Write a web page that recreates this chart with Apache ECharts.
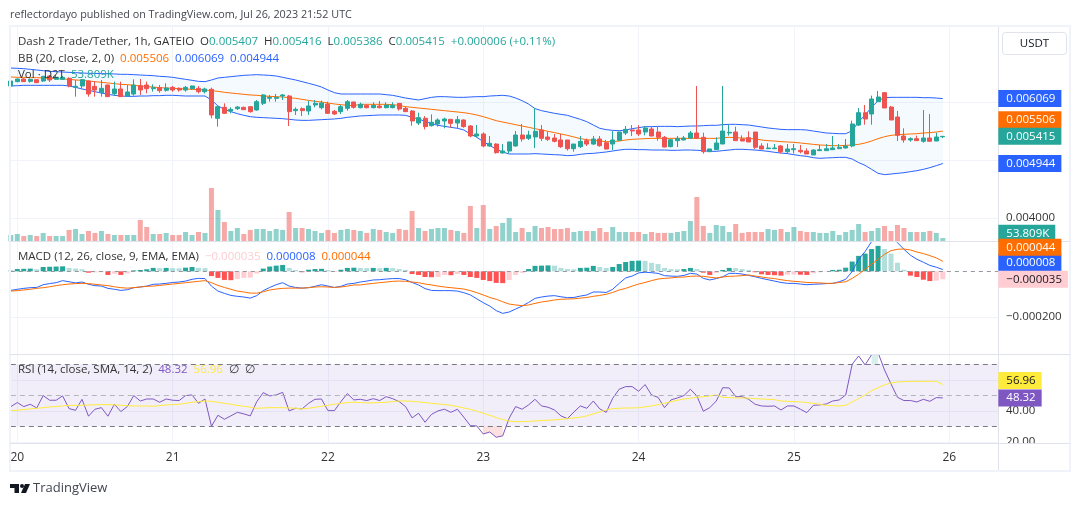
<!DOCTYPE html>
<html>
<head>
<meta charset="utf-8">
<style>html,body{margin:0;padding:0;background:#fff}#chart{width:1080px;height:506px}</style>
</head>
<body>
<div id="chart"></div>
<script src="https://cdn.jsdelivr.net/npm/echarts@6/dist/echarts.min.js"></script>
<script>
// prices, bands and macd are in millionths of USDT, volume in thousands
var dayLabels = ['20', '21', '22', '23', '24', '25', '26'];
// open, close, low, high
var candles = [
[6288,6374,6276,6392],[6363,6409,6357,6415],[6409,6363,6357,6420],[6368,6403,6345,6420],[6397,6345,6340,6403],
[6374,6455,6357,6461],[6461,6392,6357,6478],[6403,6438,6392,6478],[6403,6438,6392,6461],[6420,6288,6264,6438],
[6264,6282,6103,6392],[6288,6397,6247,6409],[6374,6149,6103,6380],[6282,6218,6103,6374],[6172,6247,6103,6392],
[6305,6103,6097,6311],[6155,6236,6120,6363],[6236,6103,6097,6363],[6114,6184,6103,6305],[6149,6305,6120,6403],
[6293,6218,6132,6409],[6305,6241,6160,6363],[6241,6259,6189,6316],[6259,6207,6172,6305],[6212,6253,6189,6334],
[6264,6218,6189,6288],[6247,6218,6189,6264],[6218,6264,6189,6288],[6241,6288,6218,6293],[6247,6189,6160,6288],
[6189,6236,6160,6259],[6230,5785,5727,6259],[5727,5929,5583,5941],[5918,5814,5802,5987],[5854,5883,5814,5918],
[5895,5923,5872,5941],[5918,5877,5872,5929],[5929,5843,5825,5929],[5872,6016,5860,6045],[5987,6132,5958,6149],
[6074,6091,6016,6132],[6074,6091,6016,6149],[6114,6132,6045,6149],[6114,5843,5594,6132],[5860,5883,5785,5918],
[5895,5860,5768,5918],[5854,5941,5785,6033],[5958,5987,5918,6045],[5912,5993,5883,6033],[5976,5814,5802,6016],
[5849,5802,5785,5872],[5843,5929,5802,5958],[5900,6016,5860,6045],[6010,5918,5895,6016],[5912,5970,5900,5999],
[5952,5912,5900,5965],[5912,5952,5900,6005],[5941,5912,5900,6028],[5912,5958,5900,6005],[5912,5952,5900,6005],
[5987,5889,5860,5993],[5900,5843,5843,5929],[5854,5681,5600,5871],[5646,5739,5611,5825],[5727,5583,5536,5767],
[5600,5658,5583,5796],[5629,5698,5583,5727],[5681,5716,5554,5738],[5710,5640,5565,5710],[5646,5704,5554,5767],
[5698,5583,5565,5710],[5594,5421,5398,5611],[5421,5456,5398,5611],[5456,5248,5225,5484],[5248,5294,5236,5421],
[5282,5132,5115,5294],[5126,5161,5120,5282],[5161,5317,5115,5323],[5248,5438,5236,5507],[5438,5369,5323,5629],
[5380,5438,5352,5513],[5404,5502,5213,5906],[5525,5380,5334,5611],[5404,5363,5334,5496],[5386,5329,5311,5456],
[5352,5236,5213,5456],[5352,5201,5167,5352],[5201,5282,5149,5282],[5236,5328,5213,5421],[5340,5282,5248,5375],
[5282,5369,5265,5421],[5369,5253,5236,5421],[5305,5195,5190,5352],[5282,5352,5178,5507],[5346,5490,5334,5496],
[5473,5536,5438,5594],[5525,5508,5421,5611],[5525,5456,5421,5611],[5490,5560,5432,5594],[5542,5421,5415,5583],
[5490,5398,5340,5594],[5398,5230,5225,5421],[5236,5357,5225,5369],[5340,5380,5230,5421],[5352,5386,5346,5421],
[5386,5473,5375,5507],[5473,5386,5375,6287],[5398,5149,5115,5479],[5149,5196,5149,5196],[5184,5300,5178,5398],
[5282,5507,5282,6287],[5473,5485,5427,5611],[5490,5340,5340,5583],[5369,5334,5334,5432],[5392,5317,5317,5502],
[5490,5225,5195,5490],[5248,5195,5190,5294],[5201,5213,5201,5294],[5201,5213,5201,5282],[5248,5149,5120,5265],
[5149,5196,5109,5282],[5184,5201,5120,5282],[5173,5149,5120,5265],[5161,5109,5109,5207],[5092,5178,5092,5190],
[5167,5184,5167,5265],[5167,5201,5167,5282],[5184,5213,5178,5421],[5201,5225,5195,5282],[5213,5248,5201,5369],
[5248,5629,5225,5687],[5611,5825,5594,5906],[5825,5716,5617,5958],[5802,6062,5617,6120],[6016,6097,6016,6201],
[6172,5906,5906,6183],[5923,5698,5698,5941],[5750,5432,5334,5854],[5421,5352,5305,5554],[5352,5375,5323,5398],
[5375,5340,5340,5427],[5329,5386,5305,5871],[5386,5329,5329,5802],[5334,5404,5334,5479],[5407,5415,5386,5416]
];
var bbUpper = [
6599,6594,6588,6576,6565,6553,6542,6536,6530,6524,6519,6513,6507,6507,6501,6501,6496,6490,6490,6484,
6478,6472,6467,6455,6449,6438,6420,6403,6386,6368,6363,6392,6426,6438,6449,6461,6472,6478,6484,6478,
6472,6461,6438,6415,6392,6363,6334,6305,6270,6218,6172,6149,6149,6149,6149,6149,6149,6149,6137,6126,
6103,6079,6062,6045,6068,6091,6103,6103,6097,6091,6091,6097,6103,6103,6114,6120,6126,6114,6079,6033,
5975,5895,5860,5837,5814,5796,5779,5744,5710,5669,5611,5554,5531,5519,5513,5525,5548,5565,5583,5583,
5588,5588,5588,5583,5588,5594,5594,5600,5606,5606,5617,5623,5623,5617,5611,5594,5577,5560,5548,5536,
5531,5531,5531,5525,5507,5490,5473,5467,5461,5461,5513,5669,5785,5918,6033,6085,6091,6091,6091,6091,
6091,6085,6085,6079,6069
];
var bbBasis = [
6444,6438,6438,6432,6432,6426,6420,6415,6409,6403,6392,6386,6374,6363,6351,6340,6328,6316,6311,6299,
6288,6276,6270,6259,6253,6247,6241,6236,6230,6224,6218,6207,6195,6178,6166,6155,6143,6132,6126,6114,
6108,6103,6097,6085,6074,6056,6039,6022,6010,5993,5976,5964,5952,5947,5970,5970,5970,5970,5970,5964,
5952,5929,5918,5906,5895,5883,5871,5860,5848,5837,5825,5808,5785,5756,5721,5687,5663,5640,5617,5594,
5571,5548,5525,5502,5479,5456,5432,5404,5375,5357,5346,5334,5323,5323,5334,5352,5363,5369,5375,5380,
5380,5380,5380,5380,5380,5380,5380,5380,5380,5380,5392,5398,5392,5386,5380,5369,5352,5340,5334,5323,
5317,5311,5300,5288,5276,5265,5259,5253,5253,5259,5265,5276,5300,5334,5375,5409,5432,5444,5450,5456,
5461,5473,5479,5490,5506
];
var bbLower = [
6288,6293,6299,6299,6299,6299,6299,6299,6299,6288,6264,6236,6212,6189,6166,6143,6126,6114,6108,6108,
6114,6114,6120,6120,6126,6126,6120,6114,6114,6114,6114,6045,5941,5883,5843,5808,5779,5756,5745,5739,
5733,5727,5721,5710,5698,5692,5692,5698,5704,5710,5716,5727,5744,5756,5768,5773,5779,5785,5785,5785,
5785,5779,5744,5716,5675,5635,5606,5588,5571,5554,5525,5456,5398,5323,5259,5190,5144,5109,5109,5109,
5109,5115,5109,5103,5097,5092,5080,5086,5103,5115,5120,5132,5144,5161,5178,5190,5190,5184,5184,5178,
5178,5178,5173,5173,5178,5178,5173,5167,5155,5155,5167,5178,5190,5190,5184,5178,5167,5155,5138,5126,
5115,5097,5080,5068,5045,5034,5040,5045,5051,5051,5022,4959,4912,4843,4774,4751,4762,4774,4785,4803,
4820,4843,4872,4907,4944
];
var volumes = [
103,119,87,103,87,136,87,87,87,185,201,119,168,136,168,119,103,103,103,103,
348,233,119,119,136,103,103,152,103,152,136,869,510,315,168,217,119,185,201,201,
168,201,185,478,217,217,201,168,136,185,136,185,201,185,168,136,201,185,152,136,
201,185,494,217,168,201,217,217,185,168,136,576,217,592,201,250,299,380,152,217,
152,250,217,233,201,201,217,152,168,168,168,217,152,233,152,152,152,152,119,152,
136,136,136,152,168,331,722,250,136,266,250,152,282,136,152,152,152,201,185,201,
152,233,168,152,152,136,136,168,103,152,185,282,152,168,217,250,168,266,217,152,
152,152,168,136,53.809
];
var macdHist = [
3,10,11,12,9,19,20,21,22,15,12,9,-6,-5,-4,-16,-10,-16,-10,4,
6,9,15,14,15,14,13,16,19,15,14,-21,-29,-38,-39,-34,-29,-28,-10,12,
21,25,28,15,6,-4,7,10,11,6,-1,7,15,16,15,14,15,14,15,14,
10,6,-12,-16,-25,-26,-25,-16,-17,-12,-16,-25,-29,-38,-43,-51,-52,-38,-16,-7,
10,24,25,26,25,15,10,9,15,16,24,19,15,19,32,41,46,47,46,37,
32,15,10,9,10,15,10,-6,-16,-7,6,15,14,10,6,-4,-13,-16,-17,-19,
-15,-14,-15,-16,-9,-4,-1,6,7,16,43,68,78,98,112,98,78,38,7,-19,
-25,-37,-43,-41,-35
];
var macdLine = [
-84,-79,-75,-72,-71,-59,-54,-50,-41,-46,-51,-47,-57,-63,-65,-75,-79,-84,-81,-72,
-69,-65,-57,-56,-53,-49,-47,-43,-35,-31,-32,-65,-87,-97,-106,-110,-113,-118,-107,-85,
-71,-59,-50,-65,-71,-74,-72,-66,-59,-65,-71,-66,-56,-53,-47,-43,-38,-37,-34,-32,
-32,-37,-49,-60,-76,-84,-85,-85,-85,-87,-94,-104,-121,-138,-153,-173,-185,-179,-166,-153,
-137,-119,-113,-109,-107,-112,-116,-115,-109,-104,-91,-91,-93,-79,-53,-29,-21,-7,-4,-6,
-9,-19,-21,-22,-18,-9,-12,-31,-38,-32,-24,-9,-9,-12,-18,-24,-31,-37,-43,-49,
-53,-53,-56,-59,-57,-56,-54,-53,-46,-35,-1,53,87,131,175,190,168,126,97,71,
53,40,26,18,8
];
var macdSignal = [
-87,-85,-82,-79,-75,-72,-68,-63,-59,-56,-54,-53,-54,-57,-60,-63,-68,-72,-74,-72,
-69,-66,-65,-62,-59,-56,-53,-50,-47,-44,-41,-50,-62,-71,-79,-87,-91,-96,-96,-90,
-82,-78,-75,-74,-74,-74,-72,-69,-68,-69,-71,-69,-65,-60,-60,-56,-53,-50,-47,-44,
-43,-44,-47,-50,-56,-60,-65,-69,-72,-75,-78,-85,-94,-104,-115,-123,-134,-144,-148,-151,
-148,-141,-135,-131,-126,-123,-122,-121,-118,-115,-110,-106,-101,-93,-82,-75,-65,-56,-49,-41,
-34,-31,-29,-26,-25,-22,-21,-22,-26,-29,-25,-22,-21,-19,-16,-21,-25,-29,-32,-37,
-41,-44,-46,-49,-50,-51,-53,-53,-49,-46,-31,-13,9,31,53,75,91,97,98,94,
85,78,69,59,44
];
var rsiLine = [
42.7,45.3,42.7,44.2,41.8,49.8,46.8,46.8,49.6,41.4,40.3,47.4,36.5,41,42,36.5,44.2,39.5,42.7,49.8,
46.3,47.6,47.6,45.5,47.6,46.8,46.6,49.8,50.2,44.8,47.6,30,37.1,34.5,36.7,39,38,36.7,45.9,51.7,
49.6,50.2,51.9,39.9,41.6,41.2,44.8,47.4,47.6,40.1,40.1,45.9,51.1,47,47.4,46.6,47.8,46.6,49.1,47.8,
45.9,42.7,35.4,38.4,32.6,37.7,39.9,41,39,41,35.8,30.4,30.2,25,26.3,22.9,23.8,35.2,42.7,41,
43.8,47.4,43.1,42.3,40.5,36.7,34.9,39.2,43.1,41.6,46.3,41.2,39,48.1,53.9,55.6,55.6,52.6,56.9,50.2,
48.7,42,47,48.3,49.8,53.9,49.6,39.7,42,46.3,54.9,54.7,49.1,49.1,47.4,44.2,43.1,42.9,43.1,40.5,
43.1,43.1,41,38.8,43.5,43.8,44.4,46.3,47,50.2,70,75.4,69.6,76.2,77.5,66.3,57.3,48.7,46.6,46.6,
45.7,47.4,46.1,48.5,48.32
];
var rsiSma = [
40.1,40.3,40.8,41.2,41.6,42,42.5,42.7,43.1,43.5,43.5,43.5,43.8,43.8,44,44,43.8,43.5,43.3,43.1,
43.1,43.1,42.9,43.3,43.8,44,44.2,44.8,45.5,45.9,46.3,46.1,45.5,44.8,44.2,43.5,42.9,42.3,41.6,41.8,
42,42,42,41.8,41.6,41.2,41.6,42.3,42.9,43.5,44.2,44.8,45.3,45.5,45.3,45.1,45.1,45.3,45.5,45.9,
46.3,46.3,46.1,45.7,45.3,44.8,44.4,44,43.5,42.7,41.8,41,39.7,38.4,37.1,35.6,34.3,33.4,33,33,
33.2,33.4,33.7,33.9,34.1,34.5,34.9,35.4,35.8,36.7,38,39.2,40.5,41.4,41.6,41.8,41.8,42,42.5,43.1,
44,44.8,45.9,46.8,47.6,48.1,48.7,49.1,49.6,50.2,48.7,48.5,48.3,48.3,48.1,47.8,47.6,47.4,47.2,46.3,
46.1,45.9,45.7,45.3,44.8,44.2,43.5,43.3,43.1,43.5,45.7,47.8,50.2,53,54.9,56.7,58,58.6,58.8,59,
59,59,59,59,56.96
];

var UP = '#26a69a', DOWN = '#ef5350';
var FONT = 'Open Sans';
var BLUE = '#2962ff', ORANGE = '#ff6d00', PURPLE = '#7e57c2', YELLOW = '#ffeb3b';

// one slot on the left of day 20, eight empty slots after the last candle
var categories = [];
for (var i = 0; i < 154; i++) categories.push('');
dayLabels.forEach(function (d, k) { categories[1 + k * 24] = d; });
var isDay = function (idx, val) { return val !== ''; };

function fmtPrice(v) { return (v / 1e6).toFixed(6); }
function fmtMacd(v) { return (v / 1e6).toFixed(6).replace('-', '\u2212'); }

var volumeData = volumes.map(function (v, i) {
    var up = candles[i][1] >= candles[i][0];
    return { value: v, itemStyle: { color: up ? 'rgba(38,166,154,0.5)' : 'rgba(239,83,80,0.5)' } };
});
var histData = macdHist.map(function (v, i) {
    var prev = i ? macdHist[i - 1] : 0, c;
    if (v >= 0) c = v > prev ? '#26a69a' : '#b2dfdb';
    else c = v < prev ? '#ff5252' : '#ffcdd2';
    return { value: v, itemStyle: { color: c } };
});
var bandWidth = bbUpper.map(function (v, i) { return v - bbLower[i]; });
// shading where rsi leaves the 30-70 channel
var oversoldBase = rsiLine.map(function (v) { return v < 30 ? v : null; });
var oversoldFill = rsiLine.map(function (v) { return v < 30 ? 30 - v : null; });
var overboughtBase = rsiLine.map(function (v) { return v > 70 ? 70 : null; });
var overboughtFill = rsiLine.map(function (v) { return v > 70 ? v - 70 : null; });

// price tag on the right scale, shownAt is where it sits once tags have pushed each other apart
function tag(shownAt, text, bg, fg) {
    return {
        yAxis: shownAt,
        label: { formatter: text, backgroundColor: bg, color: fg || '#fff' }
    };
}
function tags(list) {
    return {
        silent: true, symbol: 'none', z: 8, animation: false,
        lineStyle: { color: 'rgba(0,0,0,0)', opacity: 1 },
        label: { position: 'end', distance: -2.7, fontFamily: FONT, fontSize: 11.5, padding: [2, 6, 2, 8], lineHeight: 13, opacity: 1 },
        data: list
    };
}
function xAx(grid, showLabel) {
    return {
        type: 'category', gridIndex: grid, data: categories, boundaryGap: false,
        axisLine: { show: false }, axisTick: { show: false },
        axisLabel: { show: showLabel, interval: isDay, color: '#333', fontFamily: FONT, fontSize: 12, margin: 8, showMinLabel: true, showMaxLabel: true },
        splitLine: { show: grid !== 3, interval: isDay, lineStyle: { color: '#f0f3fa', width: 1 } }
    };
}
function yAx(grid, min, max, gridVals, labelVals, fmt) {
    return {
        type: 'value', gridIndex: grid, position: 'right', min: min, max: max, scale: true,
        axisLine: { show: false },
        axisTick: { show: false, customValues: gridVals },
        axisLabel: { show: labelVals.length > 0, customValues: labelVals, formatter: fmt, color: '#333', fontFamily: FONT, fontSize: 11.5, margin: 5 },
        splitLine: { show: gridVals.length > 0, lineStyle: { color: '#f0f3fa', width: 1 } }
    };
}
function lineS(name, data, color, xi, extra) {
    var s = {
        name: name, type: 'line', data: data, xAxisIndex: xi, yAxisIndex: xi,
        symbol: 'none', lineStyle: { color: color, width: 1 }, z: 3
    };
    for (var k in extra) s[k] = extra[k];
    return s;
}
function seg(text, color) { return { text: text, color: color }; }
function legend(x, y, parts) {
    var rich = {}, str = '';
    parts.forEach(function (p, i) {
        rich['p' + i] = { fill: p.color, color: p.color, fontFamily: FONT, fontSize: 11.5 };
        str += '{p' + i + '|' + p.text + '}';
    });
    return { type: 'text', x: x, y: y, z: 20, silent: true, style: { text: str, rich: rich, fontFamily: FONT, fontSize: 11.5, verticalAlign: 'middle' } };
}
function rule(x1, y1, x2, y2, color) {
    return { type: 'line', z: 7, silent: true, shape: { x1: x1, y1: y1, x2: x2, y2: y2 }, style: { stroke: color, lineWidth: 1 } };
}

var chart = echarts.init(document.getElementById('chart'));
chart.setOption({
    animation: false,
    backgroundColor: '#fff',
    grid: [
        { left: 10.83, width: 990.2, top: 27, height: 214.3 },
        { left: 10.83, width: 990.2, top: 242, height: 112.5 },
        { left: 10.83, width: 990.2, top: 355, height: 88.3 },
        { left: 10.83, width: 990.2, top: 188, height: 53.3 }
    ],
    xAxis: [xAx(0, false), xAx(1, false), xAx(2, true), xAx(3, false)],
    yAxis: [
        yAx(0, 3596, 7310, [4000, 5000, 6000], [4000], fmtPrice),
        yAx(1, -366, 129, [-200], [-200], fmtMacd),
        yAx(2, 19, 76, [20, 40, 60], [20, 40], function (v) { return v.toFixed(2); }),
        yAx(3, 0, 869, [], [], null)
    ],
    series: [
        { type: 'bar', data: volumeData, xAxisIndex: 3, yAxisIndex: 3, barWidth: 5, z: 1,
          markLine: tags([tag(130, '53.809K', UP)]) },
        lineS('band base', bbLower, BLUE, 0, { stack: 'bb', lineStyle: { opacity: 0 }, z: 1 }),
        lineS('band fill', bandWidth, BLUE, 0, { stack: 'bb', lineStyle: { opacity: 0 }, areaStyle: { color: 'rgba(33,150,243,0.05)', opacity: 1 }, z: 1 }),
        lineS('BB upper', bbUpper, BLUE, 0, { z: 2 }),
        lineS('BB lower', bbLower, BLUE, 0, { z: 2 }),
        lineS('BB basis', bbBasis, ORANGE, 0, { z: 2, markLine: tags([
            tag(6069, fmtPrice(6069), BLUE),
            tag(5704, fmtPrice(5506), ORANGE),
            tag(5415, fmtPrice(5415), UP),
            tag(4944, fmtPrice(4944), BLUE)
        ]) }),
        { type: 'candlestick', data: candles, xAxisIndex: 0, yAxisIndex: 0, barWidth: 4.5, z: 2,
          itemStyle: { color: UP, color0: DOWN, borderColor: UP, borderColor0: DOWN, borderWidth: 1 } },
        { type: 'bar', data: histData, xAxisIndex: 1, yAxisIndex: 1, barWidth: 5, z: 1 ,
          markLine: { silent: true, symbol: 'none', animation: false, z: 2, label: { show: false },
            lineStyle: { color: '#9598a1', type: [4, 4], width: 1 }, data: [{ yAxis: 0 }] } },
        lineS('MACD', macdLine, BLUE, 1, { markLine: tags([
            tag(38, '0.000008', BLUE),
            tag(106, '0.000044', ORANGE),
            tag(-35, '\u22120.000035', '#ffcdd2', '#131722')
        ]) }),
        lineS('Signal', macdSignal, ORANGE, 1),
        lineS('oversold base', oversoldBase, PURPLE, 2, { stack: 'low', lineStyle: { opacity: 0 }, z: 1 }),
        lineS('oversold fill', oversoldFill, PURPLE, 2, { stack: 'low', lineStyle: { opacity: 0 }, z: 1, areaStyle: { color: 'rgba(239,83,80,0.18)', opacity: 1 } }),
        lineS('overbought base', overboughtBase, PURPLE, 2, { stack: 'high', lineStyle: { opacity: 0 }, z: 1 }),
        lineS('overbought fill', overboughtFill, PURPLE, 2, { stack: 'high', lineStyle: { opacity: 0 }, z: 1, areaStyle: { color: 'rgba(38,166,154,0.18)', opacity: 1 } }),
        lineS('RSI', rsiLine, PURPLE, 2, {
            markLine: tags([tag(48.32, '48.32', PURPLE), tag(59.5, '56.96', YELLOW, '#131722')]),
            markArea: { silent: true, animation: false, itemStyle: { color: 'rgba(126,87,194,0.1)' },
                data: [[{ yAxis: 70 }, { yAxis: 30 }]] }
        }),
        lineS('RSI SMA', rsiSma, YELLOW, 2, {
            markLine: { silent: true, symbol: 'none', animation: false, z: 5, label: { show: false },
                lineStyle: { color: '#787b86', type: [5, 4], width: 1 },
                data: [{ yAxis: 70 }, { yAxis: 30 }, { yAxis: 50, lineStyle: { color: '#b2b5be' } }] }
        })
    ],
    graphic: [
        // keeps grid lines and the rsi band from running past the scale divider
        { type: 'rect', z: 6, silent: true, shape: { x: 998.5, y: 27, width: 3.5, height: 416 }, style: { fill: '#fff' } },
        { type: 'rect', z: 1, silent: true, shape: { x: 1002, y: 444, width: 66, height: 8 }, style: { fill: '#fff' } },
        { type: 'rect', z: 7, silent: true, shape: { x: 10, y: 26, width: 1060, height: 445 }, style: { fill: 'none', stroke: '#f0f3fa', lineWidth: 2 } },
        rule(998.5, 27, 998.5, 470, '#e0e3eb'),
        rule(10, 241.5, 1070, 241.5, '#e0e3eb'),
        rule(10, 354.5, 1070, 354.5, '#e0e3eb'),
        rule(10, 443.5, 1070, 443.5, '#e0e3eb'),
        { type: 'rect', z: 7, silent: true, shape: { x: 1002.5, y: 32.5, width: 64, height: 22, r: 3 }, style: { fill: '#fff', stroke: '#e0e3eb', lineWidth: 1 } },
        { type: 'text', z: 8, silent: true, x: 1034.5, y: 43.5, style: { text: 'USDT', fill: '#131722', fontFamily: FONT, fontSize: 11.5, align: 'center', verticalAlign: 'middle' } },
        { type: 'text', z: 20, silent: true, x: 10, y: 14.5, style: { text: 'reflectordayo published on TradingView.com, Jul 26, 2023 21:52 UTC', fill: '#434651', fontFamily: FONT, fontSize: 10.8, verticalAlign: 'middle' } },
        legend(18, 42, [seg('Dash 2 Trade/Tether, 1h, GATEIO  O', '#333'), seg('0.005407', UP), seg('  H', '#333'), seg('0.005416', UP), seg('  L', '#333'), seg('0.005386', UP), seg('  C', '#333'), seg('0.005415', UP), seg('  +0.000006 (+0.11%)', UP)]),
        legend(18, 59, [seg('BB (20, close, 2, 0)  ', '#333'), seg('0.005506', ORANGE), seg('  0.006069', BLUE), seg('  0.004944', BLUE)]),
        legend(18, 75, [seg('Vol \u00b7 D2T  ', '#333'), seg('53.809K', UP)]),
        legend(18, 257, [seg('MACD (12, 26, close, 9, EMA, EMA)  ', '#333'), seg('\u22120.000035', '#ffcdd2'), seg('  0.000008', BLUE), seg('  0.000044', ORANGE)]),
        legend(18, 370, [seg('RSI (14, close, SMA, 14, 2)  ', '#333'), seg('48.32', PURPLE), seg('  56.96', YELLOW), seg('  \u2205  \u2205', '#333')]),
        { type: 'polygon', z: 20, silent: true, shape: { points: [[10, 484], [19, 484], [19, 493], [14.5, 493], [14.5, 488], [10, 488]] }, style: { fill: '#131722' } },
        { type: 'circle', z: 20, silent: true, shape: { cx: 22, cy: 486, r: 2 }, style: { fill: '#131722' } },
        { type: 'polygon', z: 20, silent: true, shape: { points: [[25, 484], [30, 484], [26, 493], [21, 493]] }, style: { fill: '#131722' } },
        { type: 'text', z: 20, silent: true, x: 33, y: 488.5, style: { text: 'TradingView', fill: '#434651', fontFamily: FONT, fontSize: 13, verticalAlign: 'middle' } }
    ]
});
</script>
</body>
</html>
